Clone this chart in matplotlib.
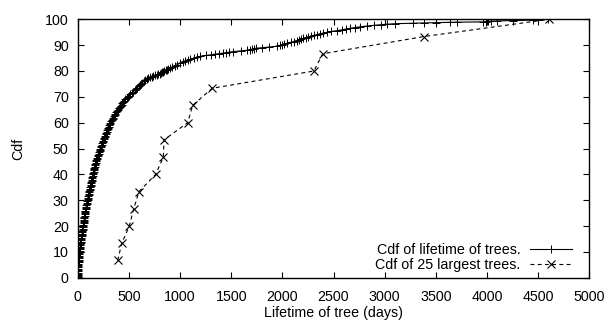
import matplotlib
matplotlib.use("Agg")
import matplotlib.pyplot as plt

plt.rcParams['font.family'] = ['Liberation Sans', 'DejaVu Sans']

# Cdf of lifetime of trees (lifetime in days, cdf in %)
life_days = [2, 2, 3, 3, 4, 4, 5, 5, 6, 6, 7, 7, 8, 9, 10, 11, 12, 13, 15, 16,
             18, 19, 20, 22, 23, 25, 27, 29, 31, 33, 35, 36, 38, 40, 42, 44, 46, 48, 50, 52,
             54, 56, 58, 59, 61, 63, 64, 66, 68, 70, 71, 73, 76, 78, 80, 82, 85, 88, 91, 94,
             97, 100, 103, 105, 108, 110, 113, 115, 118, 120, 122, 125, 127, 130, 132, 135, 137, 140, 143, 146,
             149, 152, 155, 157, 160, 163, 165, 168, 171, 175, 178, 182, 186, 190, 195, 199, 204, 208, 213, 217,
             222, 226, 231, 235, 240, 244, 249, 254, 259, 264, 270, 275, 281, 285, 290, 295, 300, 305, 310, 315,
             320, 326, 333, 340, 346, 353, 360, 368, 376, 384, 393, 401, 410, 419, 428, 437, 447, 457, 467, 478,
             490, 502, 515, 530, 545, 557, 570, 582, 595, 607, 620, 632, 645,
             660, 675, 690, 710, 725, 740, 755, 772, 786, 800, 812, 825, 835, 845, 858, 870, 885, 900,
             925, 950, 975, 1000, 1025, 1050, 1075, 1100, 1135, 1170, 1200, 1250, 1300, 1340,
             1380, 1420, 1450, 1480, 1520, 1600, 1650, 1680, 1700, 1720, 1740, 1800, 1870,
             1950, 1975, 2000, 2020, 2050, 2080, 2110, 2140, 2160, 2185, 2205, 2230, 2255,
             2280, 2310, 2340, 2370, 2400, 2440, 2480, 2530, 2580, 2620, 2660, 2710, 2760,
             2830, 2900, 2960, 3020, 3100, 3280, 3380, 3500, 3640, 3710, 3960, 3990, 4010,
             4035, 4100, 4255, 4450, 4500, 4600]
life_cdf = [0.3, 0.6, 1, 1.5, 2, 2.5, 3, 3.5, 4, 4.5, 5, 5.5, 6, 6.5, 7, 7.5, 8, 8.5, 9, 9.5,
            10, 10.5, 11, 11.5, 12, 12.5, 13, 13.5, 14, 14.5, 15, 15.5, 16, 16.5, 17, 17.5, 18, 18.5, 19, 19.5,
            20, 20.5, 21, 21.5, 22, 22.5, 23, 23.5, 24, 24.5, 25, 25.5, 26, 26.5, 27, 27.5, 28, 28.5, 29, 29.5,
            30, 30.5, 31, 31.5, 32, 32.5, 33, 33.5, 34, 34.5, 35, 35.5, 36, 36.5, 37, 37.5, 38, 38.5, 39, 39.5,
            40, 40.5, 41, 41.5, 42, 42.5, 43, 43.5, 44, 44.5, 45, 45.5, 46, 46.5, 47, 47.5, 48, 48.5, 49, 49.5,
            50, 50.5, 51, 51.5, 52, 52.5, 53, 53.5, 54, 54.5, 55, 55.5, 56, 56.5, 57, 57.5, 58, 58.5, 59, 59.5,
            60, 60.5, 61, 61.5, 62, 62.5, 63, 63.5, 64, 64.5, 65, 65.5, 66, 66.5, 67, 67.5, 68, 68.5, 69, 69.5,
            70, 70.5, 71, 71.5, 72, 72.5, 73, 73.5, 74, 74.5, 75, 75.5, 76,
            76.4, 76.8, 77.1, 77.5, 77.8, 78, 78.3, 78.5, 78.8, 79, 79.3, 79.5, 79.8, 80, 80.3, 80.5, 80.8, 81,
            81.5, 82, 82.5, 83, 83.4, 83.8, 84.2, 84.6, 85, 85.4, 85.7, 86, 86.3, 86.5,
            86.7, 86.9, 87.1, 87.3, 87.5, 87.8, 88, 88.2, 88.4, 88.6, 88.8, 89, 89.3,
            89.6, 89.9, 90.2, 90.5, 90.8, 91.1, 91.4, 91.7, 92, 92.3, 92.6, 92.9, 93.2,
            93.5, 93.8, 94.1, 94.4, 94.7, 95, 95.3, 95.6, 95.9, 96.2, 96.5, 96.8, 97.1,
            97.4, 97.7, 97.9, 98.1, 98.3, 98.5, 98.6, 98.7, 98.8, 98.9, 99.0, 99.1, 99.2,
            99.3, 99.4, 99.5, 99.7, 99.8, 100]

# Cdf of 25 largest trees
big_days = [391, 430, 504, 547, 599, 762, 837, 843, 1075, 1123, 1315, 2309, 2394, 3383, 4607]
big_cdf = [6.67, 13.33, 20.0, 26.67, 33.33, 40.0, 46.67, 53.33, 60.0, 66.67, 73.33,
           80.0, 86.67, 93.33, 100.0]

x_ticks = [0, 500, 1000, 1500, 2000, 2500, 3000, 3500, 4000, 4500, 5000]
y_ticks = [0, 10, 20, 30, 40, 50, 60, 70, 80, 90, 100]

assert len(life_days) == len(life_cdf)

FS = 10.3

fig = plt.figure(figsize=(6.10, 3.23), dpi=100)
ax = fig.add_axes([0.1274, 0.1402, 0.8387, 0.8000])

ax.plot(life_days, life_cdf, color='black', lw=0.8, marker='+', ms=6, mew=0.7,
        label='Cdf of lifetime of trees.')
ax.plot(big_days, big_cdf, color='black', lw=0.8, ls=(0, (3.5, 3)), marker='x', ms=5.5,
        mew=0.8, label='Cdf of 25 largest trees.')

ax.set_xlim(0, 5000)
ax.set_ylim(0, 100)
ax.set_xticks(x_ticks)
ax.set_yticks(y_ticks)
ax.tick_params(direction='in', length=4.5, width=0.8, top=True, right=True,
               labelsize=FS)
ax.tick_params(axis='x', pad=8.5)
ax.tick_params(axis='y', pad=6.5)
for s in ax.spines.values():
    s.set_linewidth(1.0)

ax.set_xlabel('Lifetime of tree (days)', fontsize=FS, labelpad=1.5)
ax.set_ylabel('Cdf', fontsize=FS, labelpad=14)

leg = ax.legend(loc='lower right', bbox_to_anchor=(0.966, 0.022), frameon=False,
                fontsize=FS, markerfirst=False, handlelength=2.9, handletextpad=0.7,
                labelspacing=0.05, borderpad=0, borderaxespad=0, numpoints=1)
for t in leg.get_texts():
    t.set_ha('right')

fig.savefig('out.png', dpi=100)
